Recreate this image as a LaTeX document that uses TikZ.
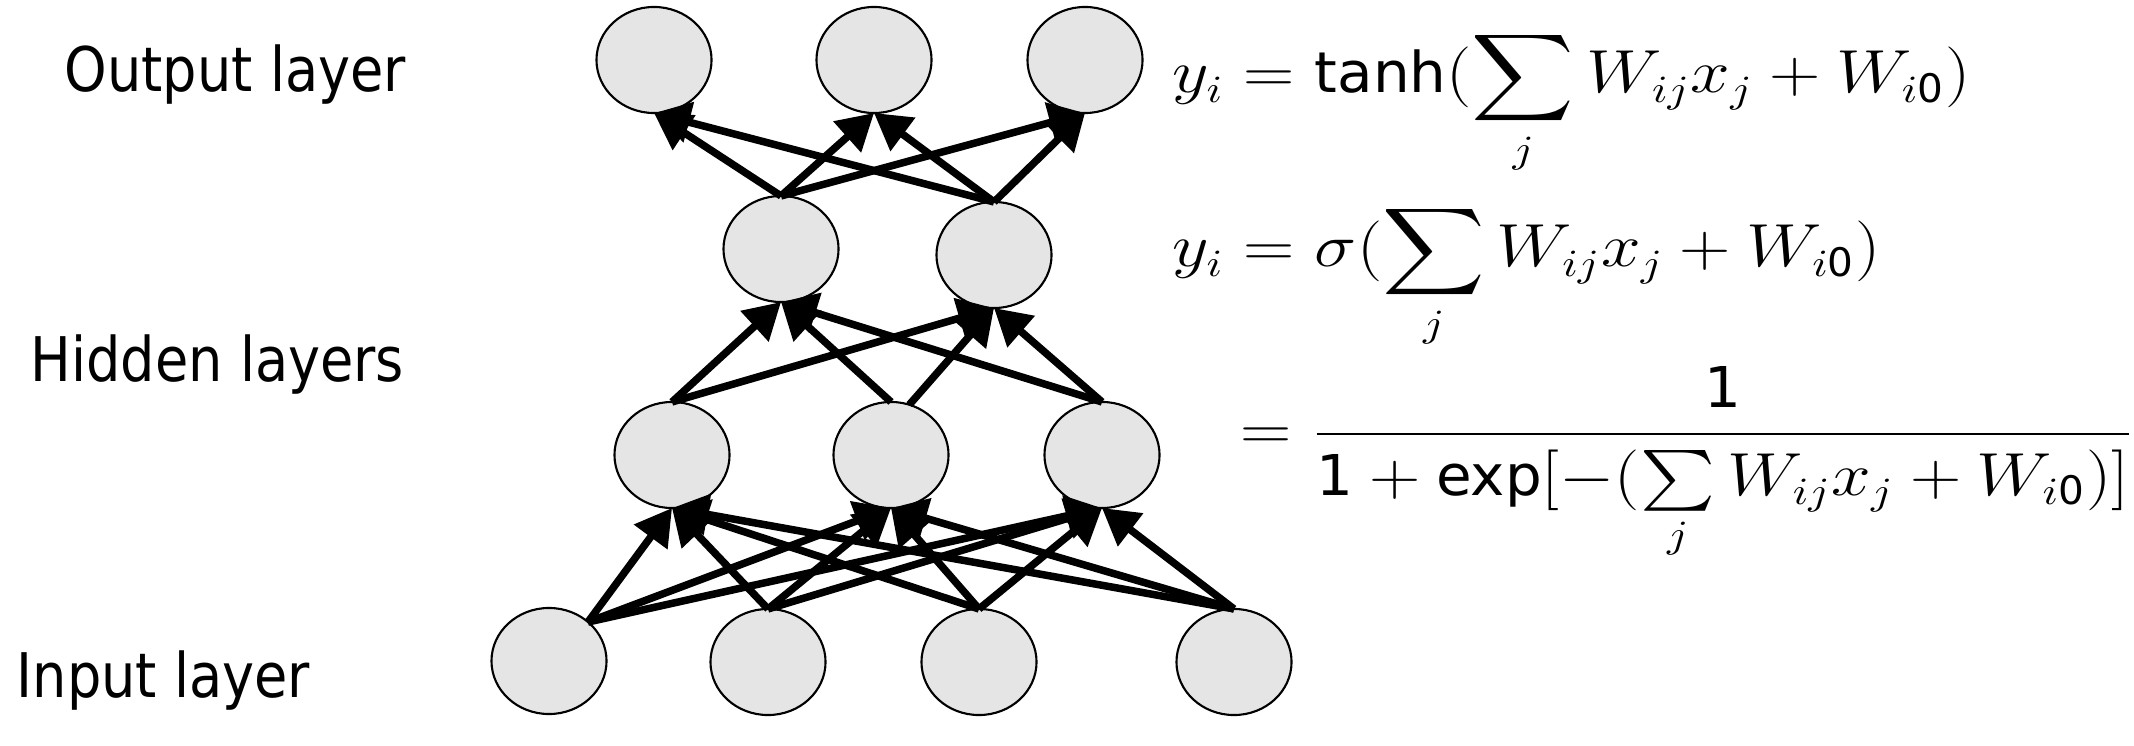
\documentclass[tikz,border=0pt]{standalone}
\usepackage{amsmath}
\usepackage{graphicx}
\usepackage{fontspec}
\usetikzlibrary{arrows.meta,shapes.geometric}
\newfontfamily\tahomalike[FakeStretch=0.88]{DejaVu Sans}
\newcommand{\sft}[1]{\text{\tahomalike #1}}
\newcommand{\wideeq}[1]{\scalebox{1.17}[1]{#1}}
\begin{document}
\begin{tikzpicture}[x = 0.01cm, y = -0.01cm,
        neuron/.style = {ellipse, draw, line width = 0.6pt, fill = black!10,
            minimum width = 1.15cm, minimum height = 1.06cm, inner sep = 0pt, outer sep = 0pt},
        link/.style = {line width = 0.075cm, -{Triangle[length = 0.36cm, width = 0.40cm]}},
        layername/.style = {anchor = base west, inner sep = 0pt,
            font = \fontsize{17.5}{20}\selectfont\tahomalike},
        formula/.style = {anchor = base west, inner sep = 0pt,
            font = \fontsize{16}{19}\selectfont}]
    \useasboundingbox (0,0) rectangle (2134,746);
    % neurons
    \node[neuron] (out1) at (654,60) {};
    \node[neuron] (out2) at (874,60) {};
    \node[neuron] (out3) at (1085,60) {};
    \node[neuron] (uh1) at (781,249) {};
    \node[neuron] (uh2) at (994,255) {};
    \node[neuron] (lh1) at (672,455) {};
    \node[neuron] (lh2) at (891,455) {};
    \node[neuron] (lh3) at (1102,455) {};
    \node[neuron] (in1) at (549,661) {};
    \node[neuron] (in2) at (768,662) {};
    \node[neuron] (in3) at (979,662) {};
    \node[neuron] (in4) at (1234,662) {};
    % input -> lower hidden
    \draw[link] (in1.45) -- (lh1.south);
    \draw[link] (in1.45) -- (lh2.south);
    \draw[link] (in1.45) -- (lh3.south);
    \draw[link] (in2.north) -- (lh1.south);
    \draw[link] (in2.north) -- (lh2.south);
    \draw[link] (in2.north) -- (lh3.south);
    \draw[link] (in3.north) -- (lh1.south);
    \draw[link] (in3.north) -- (lh2.south);
    \draw[link] (in3.north) -- (lh3.south);
    \draw[link] (in4.north) -- (lh1.south);
    \draw[link] (in4.north) -- (lh2.south);
    \draw[link] (in4.north) -- (lh3.south);
    % lower hidden -> upper hidden
    \draw[link] (lh1.north) -- (uh1.south);
    \draw[link] (lh1.north) -- (uh2.south);
    \draw[link] (lh2.north) -- (uh1.south);
    \draw[link] (lh2.70) -- (uh2.south);
    \draw[link] (lh3.north) -- (uh1.south);
    \draw[link] (lh3.north) -- (uh2.south);
    % upper hidden -> output
    \draw[link] (uh1.north) -- (out1.south);
    \draw[link] (uh1.north) -- (out2.south);
    \draw[link] (uh1.north) -- (out3.south);
    \draw[link] (uh2.north) -- (out1.south);
    \draw[link] (uh2.north) -- (out2.south);
    \draw[link] (uh2.north) -- (out3.south);
    % layer names
    \node[layername] (outname) at (64,92) {Output layer};
    \node[layername] (hidname) at (30,382) {Hidden layers};
    \node[layername] (inname) at (16,697) {Input layer};
    % activation functions
    \node[formula] (eqtanh) at (1172,93)
        {\wideeq{$\displaystyle y_i = \sft{tanh}(\sum_j W_{ij}x_j + W_{i\sft{0}})$}};
    \node[formula] (eqsig) at (1172,267)
        {\wideeq{$\displaystyle y_i = \sigma(\sum_j W_{ij}x_j + W_{i\sft{0}})$}};
    \node[formula] (eqfrac) at (1240,449)
        {\wideeq{$\displaystyle = \frac{\sft{1}}{\rule{0pt}{0.95em}\sft{1} + \sft{exp}[-(\sum\limits_j W_{ij}x_j + W_{i\sft{0}})]}$}};
\end{tikzpicture}
\end{document}
